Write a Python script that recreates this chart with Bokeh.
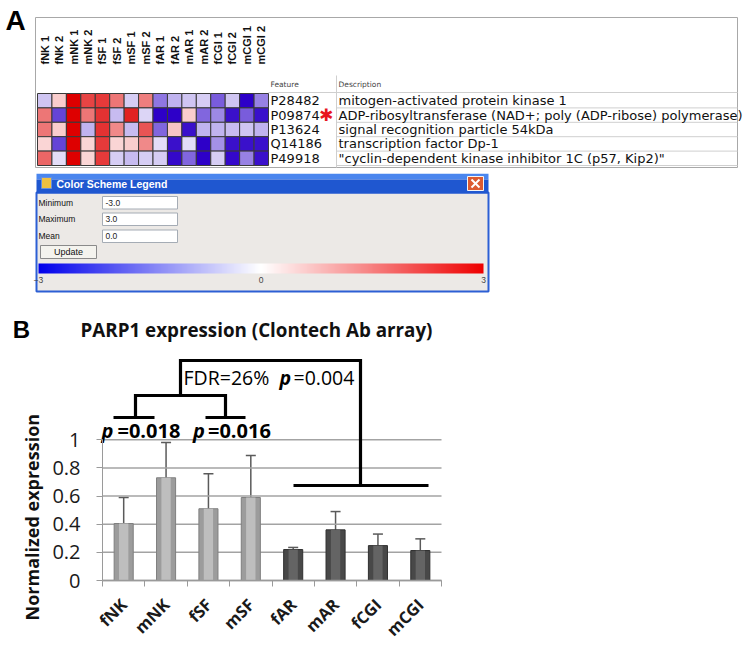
import numpy as np
from bokeh.plotting import figure
from bokeh.models import (Range1d, ColumnDataSource, LinearColorMapper, ColorBar,
                          FixedTicker, Whisker, TeeHead)
from bokeh.core.properties import value
from bokeh.embed import file_html
from bokeh.resources import INLINE

# ---------------- data: panel A (heat map) ----------------
sample_labels = ["fNK 1", "fNK 2", "mNK 1", "mNK 2", "fSF 1", "fSF 2", "mSF 1", "mSF 2",
                 "fAR 1", "fAR 2", "mAR 1", "mAR 2", "fCGI 1", "fCGI 2", "mCGI 1", "mCGI 2"]
features = ["P28482", "P09874", "P13624", "Q14186", "P49918"]
descriptions = ["mitogen-activated protein kinase 1",
                "ADP-ribosyltransferase (NAD+; poly (ADP-ribose) polymerase)",
                "signal recognition particle 54kDa",
                "transcription factor Dp-1",
                "\"cyclin-dependent kinase inhibitor 1C (p57, Kip2)\""]
row_P28482 = [-0.7, 0.6, 3.0, 2.2, 2.3, 1.6, -0.6, 1.5, -1.6, -0.9, -0.7, -0.6, -1.9, -0.7, -3.0, -1.5]
row_P09874 = [1.6, -2.2, 3.0, 1.6, 2.4, -0.8, 2.6, -0.5, -3.0, -3.0, 0.6, -1.8, -1.4, -2.8, -1.9, -2.8]
row_P13624 = [1.6, 0.6, 3.0, -0.9, 2.4, 1.4, -0.8, 2.0, -1.8, 0.7, -2.8, -0.9, -0.9, -0.8, -0.7, -0.9]
row_Q14186 = [0.5, -2.2, 3.0, 0.5, 2.3, 0.5, 0.6, 1.4, -0.4, -2.8, -0.4, -3.0, -1.3, -2.8, -2.8, -2.8]
row_P49918 = [1.8, -0.4, 3.0, 0.5, 2.3, -0.6, -0.8, -0.6, -0.6, -2.9, -1.8, -3.0, -0.6, -2.9, -1.5, -2.8]
highlighted_feature = "P09874"
scale_fields = ["Minimum", "Maximum", "Mean"]
scale_values = ["-3.0", "3.0", "0.0"]
scale_ticks = [-3, 0, 3]

# ---------------- data: panel B (bar chart) ----------------
groups = ["fNK", "mNK", "fSF", "mSF", "fAR", "mAR", "fCGI", "mCGI"]
parp1_mean = [0.405, 0.73, 0.51, 0.59, 0.22, 0.36, 0.248, 0.213]
parp1_err = [0.185, 0.25, 0.248, 0.298, 0.015, 0.13, 0.082, 0.083]
y_ticks = [0, 0.2, 0.4, 0.6, 0.8, 1]
p_left, p_right, p_fdr = "=0.018", "=0.016", "=0.004"
fdr_text = "FDR=26%"

W = 750


def blank(h, xr, yr):
    p = figure(width=W, height=h, x_range=xr, y_range=yr, output_backend="svg",
               toolbar_location=None, x_axis_type=None, y_axis_type=None, min_border=0)
    p.outline_line_color = None
    p.grid.visible = False
    return p


def ramp(c0, c1, n):
    return ["#%02x%02x%02x" % tuple(int(round(a + (b - a) * t)) for a, b in zip(c0, c1))
            for t in np.linspace(0, 1, n)]


heat_palette = ramp((45, 0, 200), (255, 255, 255), 128) + ramp((255, 255, 255), (222, 0, 0), 128)
legend_palette = ramp((0, 0, 235), (255, 255, 255), 128) + ramp((255, 255, 255), (238, 0, 0), 128)

# ================= Panel A =================
CW, RH, X0, Y0 = 231 / 16, 72 / 5, 37, 93
def ax(px): return (px - X0) / CW
def ay(py): return (py - Y0) / RH

pA = blank(173, Range1d(ax(0), ax(W)), Range1d(ay(173), ay(0)))

pA.quad(left=[ax(35)], right=[ax(737)], top=[ay(17)], bottom=[ay(167)],
        fill_color="white", line_color="#a8a8a8", line_width=1)
seg_x = [[ax(268), ax(737)], [ax(336), ax(336)]]
seg_y = [[ay(92), ay(92)], [ay(75), ay(167)]]
for r in range(1, 6):
    seg_x.append([ax(336), ax(737)])
    seg_y.append([r, r])
pA.multi_line(xs=seg_x, ys=seg_y, line_color="#cfcfcf", line_width=1)

rows = [row_P28482, row_P09874, row_P13624, row_Q14186, row_P49918]
cx, cy, cv = [], [], []
for i, rv in enumerate(rows):
    for j, v in enumerate(rv):
        cx.append(j + 0.5); cy.append(i + 0.5); cv.append(v)
heat_mapper = LinearColorMapper(palette=heat_palette, low=-3, high=3)
pA.rect(x="x", y="y", width=1, height=1, source=ColumnDataSource(dict(x=cx, y=cy, v=cv)),
        fill_color={"field": "v", "transform": heat_mapper}, line_color="#3a3a3a", line_width=1)

pA.text(x=[j + 0.5 for j in range(len(sample_labels))], y=[ay(64)] * len(sample_labels),
        text=sample_labels, angle=np.pi / 2, text_align="left", text_baseline="middle",
        text_font=value("Liberation Sans"), text_font_style="bold", text_font_size="11px",
        text_color="#111111")

rows_y = [i + 0.5 for i in range(len(features))]
pA.text(x=[ax(270)] * len(features), y=rows_y, text=features, text_align="left",
        text_baseline="middle", text_font=value("DejaVu Sans"), text_font_size="13px",
        text_color="#111111")
pA.text(x=[ax(338)] * len(descriptions), y=rows_y, text=descriptions, text_align="left",
        text_baseline="middle", text_font=value("DejaVu Sans"), text_font_size="13px",
        text_color="#111111")
pA.text(x=[ax(270), ax(338)], y=[ay(84)] * 2, text=["Feature", "Description"],
        text_align="left", text_baseline="middle", text_font=value("DejaVu Sans"),
        text_font_size="7.5px", text_color="#444444")
star_row = features.index(highlighted_feature)
pA.text(x=[ax(325.5)], y=[star_row + 0.5], text=["\u2731"], text_align="center",
        text_baseline="middle", text_font=value("DejaVu Sans"), text_font_size="17px",
        text_color="#e8141e")
pA.text(x=[ax(15)], y=[ay(20)], text=["A"], text_align="center", text_baseline="middle",
        text_font=value("Liberation Sans"), text_font_style="bold", text_font_size="28px",
        text_color="#000000")

# ================= Colour legend window + panel B header =================
pL = blank(172, Range1d(0, W), Range1d(345, 173))
pL.quad(left=[36], right=[488], top=[192], bottom=[291], fill_color="#ece9e6",
        line_color="#2c5fd4", line_width=2)
pL.quad(left=[36, 36], right=[488, 488], top=[173, 179], bottom=[179, 193],
        fill_color=["#4a86ee", "#1f57d0"], line_color=None)
pL.quad(left=[41], right=[51], top=[177], bottom=[188], fill_color="#f0c040",
        line_color="#6b8fd8")
pL.text(x=[56], y=[183], text=["Color Scheme Legend"], text_align="left",
        text_baseline="middle", text_font=value("Liberation Sans"), text_font_style="bold",
        text_font_size="10.5px", text_color="white")
pL.quad(left=[467], right=[483], top=[176], bottom=[190], fill_color="#dc5a30",
        line_color="#f4f4f4", line_width=1)
pL.multi_line(xs=[[471, 479], [471, 479]], ys=[[179, 187], [187, 179]],
              line_color="white", line_width=2)
field_y = [202, 218.5, 235.5]
pL.text(x=[38] * 3, y=field_y, text=scale_fields, text_align="left", text_baseline="middle",
        text_font=value("Liberation Sans"), text_font_size="8.5px", text_color="#111111")
pL.quad(left=[102] * 3, right=[177] * 3, top=[y - 6 for y in field_y],
        bottom=[y + 6.5 for y in field_y], fill_color="white", line_color="#a5acb5")
pL.text(x=[105] * 3, y=field_y, text=scale_values, text_align="left", text_baseline="middle",
        text_font=value("Liberation Sans"), text_font_size="8.5px", text_color="#222222")
pL.quad(left=[40], right=[96], top=[245], bottom=[258], fill_color="#f4f3ee",
        line_color="#8a8a8a")
pL.text(x=[68], y=[251.5], text=["Update"], text_align="center", text_baseline="middle",
        text_font=value("Liberation Sans"), text_font_size="9px", text_color="#111111")
legend_mapper = LinearColorMapper(palette=legend_palette, low=-3, high=3)
cb = ColorBar(color_mapper=legend_mapper, orientation="horizontal", location=(38, 60),
              width=445, height=10, padding=0, ticker=FixedTicker(ticks=scale_ticks),
              major_tick_line_color=None, major_label_text_font_size="8.5px",
              major_label_text_font="Liberation Sans", label_standoff=3,
              bar_line_color=None, background_fill_alpha=0, border_line_color=None)
pL.add_layout(cb)

pL.text(x=[21], y=[328.5], text=["B"], text_align="center", text_baseline="middle",
        text_font=value("Liberation Sans"), text_font_style="bold", text_font_size="24px",
        text_color="#000000")
pL.text(x=[80], y=[329], text=["PARP1 expression (Clontech Ab array)"], text_align="left",
        text_baseline="middle", text_font=value("Open Sans"), text_font_style="bold",
        text_font_size="18.8px", text_color="#111111")

# ================= Panel B bar chart =================
UNIT = 140.7                      # px per expression unit
CAT = 339 / len(groups)           # px per category
def bx(px): return (px - 102) / CAT
def by(py): return (580 - py) / UNIT

pB = figure(width=W, height=308, x_range=Range1d(bx(0), bx(W)),
            y_range=Range1d(by(653), by(345)), output_backend="svg", toolbar_location=None,
            min_border=0)
pB.outline_line_color = None
pB.grid.visible = False

# horizontal gridlines over the plotting area only
pB.multi_line(xs=[[0, len(groups)] for _ in y_ticks], ys=[[t, t] for t in y_ticks],
              line_color="#a3a3a3", line_width=1.5)

yax = pB.yaxis[0]
yax.fixed_location = 0
yax.ticker = FixedTicker(ticks=y_ticks)
yax.bounds = (0, 1)
yax.major_label_overrides = {t: ("%g" % t) for t in y_ticks}
yax.axis_line_color = "#9a9a9a"
yax.major_tick_line_color = "#9a9a9a"
yax.major_tick_out = 6
yax.major_tick_in = 0
yax.minor_tick_line_color = None
yax.major_label_text_font = "Open Sans"
yax.major_label_text_font_size = "20px"
yax.major_label_text_color = "#1a1a1a"
yax.major_label_standoff = 16

xpos = [i + 0.5 for i in range(len(groups))]
xax = pB.xaxis[0]
xax.fixed_location = 0
xax.bounds = (0, len(groups))
xax.ticker = FixedTicker(ticks=xpos, minor_ticks=list(range(len(groups) + 1)))
xax.major_label_overrides = {x: g for x, g in zip(xpos, groups)}
xax.axis_line_color = "#9a9a9a"
xax.axis_line_width = 1.5
xax.major_tick_line_color = None
xax.minor_tick_line_color = "#9a9a9a"
xax.minor_tick_out = 6
xax.minor_tick_in = 0
xax.major_label_orientation = np.pi / 4
xax.major_label_text_font = "Open Sans"
xax.major_label_text_font_style = "bold"
xax.major_label_text_font_size = "16.5px"
xax.major_label_text_color = "#1a1a1a"
xax.major_label_standoff = 15

pB.text(x=[bx(31)], y=[0.45], text=["Normalized expression"], angle=np.pi / 2,
        text_align="center", text_baseline="middle", text_font=value("Open Sans"),
        text_font_style="bold", text_font_size="18px", text_color="#111111")

n_light = 4
edge = ["#9c9c9c" if i < n_light else "#484848" for i in range(len(groups))]
core = ["#c2c2c2" if i < n_light else "#676767" for i in range(len(groups))]
outl = ["#7f7f7f" if i < n_light else "#303030" for i in range(len(groups))]
src = ColumnDataSource(dict(x=xpos, top=parp1_mean, edge=edge, core=core, outl=outl,
                            upper=[m + e for m, e in zip(parp1_mean, parp1_err)]))
pB.vbar(x="x", top="top", width=0.45, bottom=0, source=src, fill_color="edge",
        line_color="outl", line_width=1)
pB.vbar(x="x", top="top", width=0.22, bottom=0, source=src, fill_color="core",
        line_color=None, fill_alpha=0.9)
pB.add_layout(Whisker(source=src, base="x", upper="upper", lower="top",
                      line_color="#5a5a5a", line_width=1.5, lower_head=None,
                      upper_head=TeeHead(size=10, line_color="#5a5a5a", line_width=1.5)))

y_low, y_mid, y_top, y_rt = by(417), by(395), by(360), by(485)
br_xs = [[bx(113), bx(154)],
         [bx(135), bx(135), bx(225), bx(225)],
         [bx(205), bx(245)],
         [bx(180), bx(180), bx(360), bx(360)],
         [bx(293), bx(428)]]
br_ys = [[y_low, y_low],
         [y_low, y_mid, y_mid, y_low],
         [y_low, y_low],
         [y_mid, y_top, y_top, y_rt],
         [y_rt, y_rt]]
pB.multi_line(xs=br_xs, ys=br_ys, line_color="black", line_width=3.2,
              line_join="miter", line_cap="butt")

yp, yf = by(429.5), by(376.5)
pB.text(x=[bx(113), bx(204.5)], y=[yp, yp], text=["p", "p"], text_align="right",
        text_baseline="middle", text_font=value("Open Sans"), text_font_style="bold italic",
        text_font_size="20px", text_color="black")
pB.text(x=[bx(117), bx(207.5)], y=[yp, yp], text=[p_left, p_right], text_align="left",
        text_baseline="middle", text_font=value("Open Sans"), text_font_style="bold",
        text_font_size="20px", text_color="black")
pB.text(x=[bx(183)], y=[yf], text=[fdr_text], text_align="left", text_baseline="middle",
        text_font=value("Open Sans"), text_font_size="19.5px", text_color="black")
pB.text(x=[bx(290.5)], y=[yf], text=["p"], text_align="right", text_baseline="middle",
        text_font=value("Open Sans"), text_font_style="bold italic", text_font_size="19.5px",
        text_color="black")
pB.text(x=[bx(293)], y=[yf], text=[p_fdr], text_align="left", text_baseline="middle",
        text_font=value("Open Sans"), text_font_size="19.5px", text_color="black")

open("out.html", "w").write(file_html([pA, pL, pB], INLINE))
